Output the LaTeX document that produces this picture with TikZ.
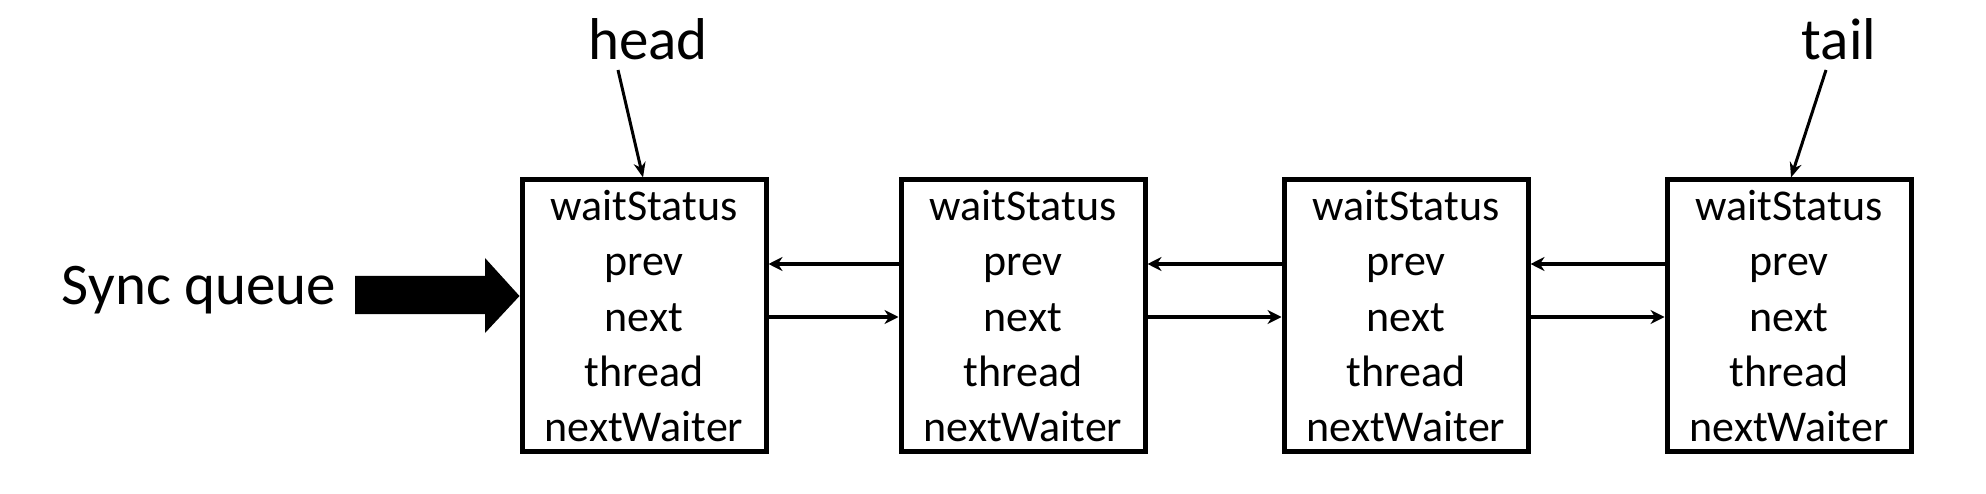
\documentclass[tikz,border=0pt]{standalone}
\usepackage{fontspec}
\setmainfont{Carlito}
\usetikzlibrary{arrows.meta}
\begin{document}
\begin{tikzpicture}[x=1pt,y=-1pt,
  qbox/.style={draw=black,line width=5pt,minimum width=244pt,minimum height=271pt,inner sep=0pt},
  field/.style={anchor=base,font=\fontsize{44}{44}\selectfont,inner sep=0pt},
  biglabel/.style={anchor=base,font=\fontsize{59}{59}\selectfont,inner sep=0pt},
  link/.style={line width=4.2pt,-{Stealth[length=14pt,width=14pt]}},
  pointer/.style={line width=3pt,-{Stealth[length=15pt,width=12pt]}}]
\useasboundingbox (0,0) rectangle (1986,494);
\fill[white] (0,0) rectangle (1986,494);
\foreach \i/\cx in {1/644,2/1023,3/1406,4/1789}{
  \node[qbox] (b\i) at (\cx,315.5) {};
  \node[field] (w\i) at (\cx,221) {waitStatus};
  \node[field] (p\i) at (\cx,276) {prev};
  \node[field] (n\i) at (\cx,331) {next};
  \node[field] (t\i) at (\cx,386) {thread};
  \node[field] (nw\i) at (\cx,441) {nextWaiter};
}
\foreach \a/\b in {1/2,2/3,3/4}{
  \draw[link] (b\b.west |- 0,264) -- (b\a.east |- 0,264);
  \draw[link] (b\a.east |- 0,317) -- (b\b.west |- 0,317);
}
\node[biglabel] (head) at (648,60) {head};
\node[biglabel] (tail) at (1839,60) {tail};
\coordinate (hs) at (618,70);
\coordinate (ts) at (1826,70);
\draw[pointer] (hs) -- (b1.north -| 643,0);
\draw[pointer] (ts) -- (b4.north -| 1791,0);
\node[biglabel] (sync) at (199,305) {Sync queue};
\fill[black] (355,276) -- (485,276) -- (485,258) -- (b1.west |- 0,296) -- (485,333) -- (485,314) -- (355,314) -- cycle;
\end{tikzpicture}
\end{document}
